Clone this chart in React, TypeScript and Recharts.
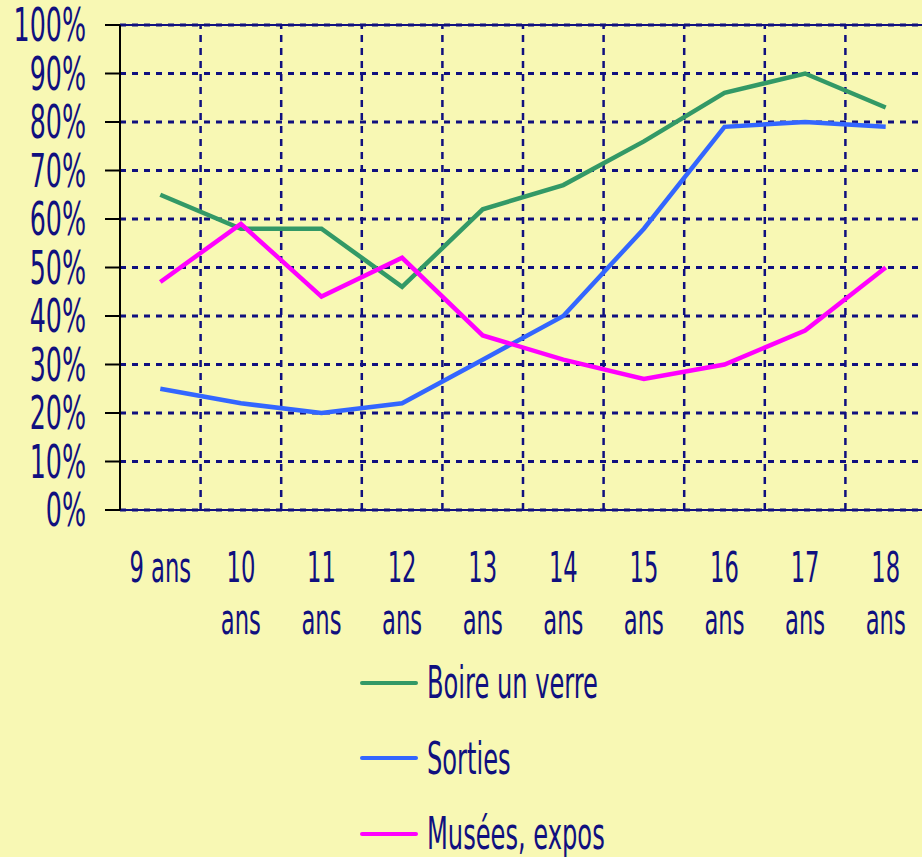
import { LineChart, Line, XAxis, YAxis, CartesianGrid, ReferenceLine, Legend } from 'recharts'

const ages = ['9 ans', '10 ans', '11 ans', '12 ans', '13 ans', '14 ans', '15 ans', '16 ans', '17 ans', '18 ans']
const boireUnVerre = [65, 58, 58, 46, 62, 67, 76, 86, 90, 83]
const sorties = [25, 22, 20, 22, 31, 40, 58, 79, 80, 79]
const museesExpos = [47, 59, 44, 52, 36, 31, 27, 30, 37, 50]
const seriesNames = ['Boire un verre', 'Sorties', 'Musées, expos']
const yTicks = [0, 10, 20, 30, 40, 50, 60, 70, 80, 90, 100]

const NAVY = '#10107f'
const BG = '#f8f8b4'
const FONT = '"Liberation Sans Narrow", "DejaVu Sans Condensed", sans-serif'

const data = ages.map((age, i) => ({
  idx: i,
  age,
  boire: boireUnVerre[i],
  sorties: sorties[i],
  musees: museesExpos[i],
}))

// boundaries between the age bands, for the vertical dashed lines
const bandEdges = ages.slice(1).map((_, i) => i + 0.5)

function AgeTick(props: any) {
  const { x, y, payload } = props
  const label = ages[payload.value] ?? ''
  const lines = label.length > 5 ? label.split(' ') : [label]
  return (
    <text
      transform={`translate(${x},${y}) scale(0.6,1)`}
      textAnchor="middle"
      fontSize={42}
      fontFamily={FONT}
      fill={NAVY}
    >
      {lines.map((l, i) => (
        <tspan key={i} x={0} y={72 + i * 52}>{l}</tspan>
      ))}
    </text>
  )
}

function PercentTick(props: any) {
  const { x, y, payload } = props
  return (
    <text
      transform={`translate(${x},${y + 16}) scale(0.64,1.05)`}
      textAnchor="end"
      fontSize={44}
      fontFamily={FONT}
      fill={NAVY}
    >
      {payload.value}%
    </text>
  )
}

function renderLegend(props: any) {
  const items = [...(props.payload || [])].sort(
    (a: any, b: any) => seriesNames.indexOf(a.value) - seriesNames.indexOf(b.value)
  )
  return (
    <div>
      {items.map((entry: any) => (
        <div key={entry.value} style={{ height: 75.5, display: 'flex', alignItems: 'center' }}>
          <svg width={58} height={10} style={{ marginRight: 9 }}>
            <line x1={2} y1={5} x2={56} y2={5} stroke={entry.color} strokeWidth={4} strokeLinecap="round" />
          </svg>
          <span
            style={{
              display: 'inline-block',
              fontFamily: FONT,
              fontSize: 44,
              color: NAVY,
              transform: 'scaleX(0.61)',
              transformOrigin: 'left center',
              whiteSpace: 'nowrap',
            }}
          >
            {entry.value}
          </span>
        </div>
      ))}
    </div>
  )
}

export default function App() {
  return (
    <div style={{ position: 'fixed', left: 0, top: 0, width: 922, height: 857, overflow: 'hidden', background: BG }}>
      <LineChart width={930} height={857} data={data} margin={{ top: 25, right: 4, bottom: 207, left: 0 }}>
        <CartesianGrid vertical={false} stroke={NAVY} strokeWidth={3} strokeDasharray="6 6" />
        {bandEdges.map((e) => (
          <ReferenceLine key={e} x={e} stroke={NAVY} strokeWidth={2.5} strokeDasharray="7 6" />
        ))}
        <ReferenceLine y={100} stroke={NAVY} strokeWidth={2} />
        <XAxis
          dataKey="idx"
          type="number"
          domain={[-0.5, 9.5]}
          ticks={ages.map((_, i) => i)}
          interval={0}
          height={140}
          tickSize={0}
          tickMargin={0}
          tickLine={false}
          axisLine={{ stroke: NAVY, strokeWidth: 2 }}
          tick={<AgeTick />}
        />
        <YAxis
          domain={[0, 100]}
          ticks={yTicks}
          interval={0}
          width={120}
          tickSize={15}
          tickMargin={19}
          tickLine={{ stroke: '#000', strokeWidth: 2 }}
          axisLine={{ stroke: '#000', strokeWidth: 2 }}
          tick={<PercentTick />}
        />
        <Legend
          layout="vertical"
          align="center"
          verticalAlign="middle"
          content={renderLegend}
          wrapperStyle={{ top: 645, left: 360, width: 400 }}
        />
        <Line type="linear" dataKey="boire" name={seriesNames[0]} stroke="#339966" strokeWidth={4.5} dot={false} isAnimationActive={false} />
        <Line type="linear" dataKey="sorties" name={seriesNames[1]} stroke="#3366ff" strokeWidth={4.5} dot={false} isAnimationActive={false} />
        <Line type="linear" dataKey="musees" name={seriesNames[2]} stroke="#ff00ff" strokeWidth={4.5} dot={false} isAnimationActive={false} />
      </LineChart>
    </div>
  )
}
